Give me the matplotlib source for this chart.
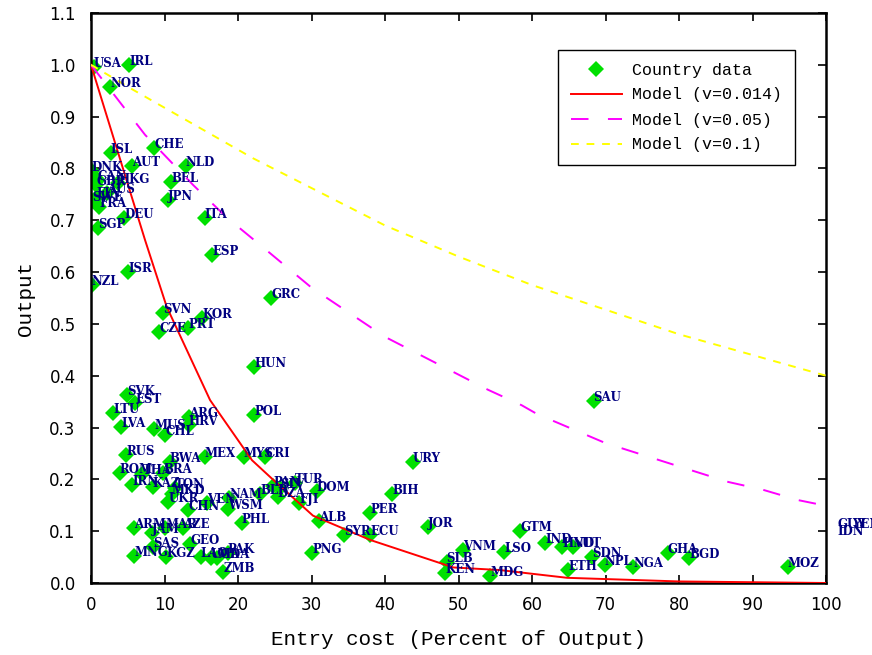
import matplotlib
matplotlib.use('Agg')
from matplotlib import pyplot as plt
from matplotlib.lines import Line2D

# country data (entry cost in percent of output, normalised output)
countries = ['USA', 'IRL', 'NOR', 'ISL', 'CHE', 'AUT', 'NLD', 'DNK', 'BEL', 'CAN',
             'GBR', 'HKG', 'AUS', 'FIN', 'SWE', 'FRA', 'DEU', 'SGP', 'JPN', 'ITA',
             'ESP', 'ISR', 'NZL', 'GRC', 'SVN', 'KOR', 'CZE', 'PRT', 'HUN', 'SVK',
             'EST', 'LTU', 'POL', 'LVA', 'ARG', 'HRV', 'MUS', 'CHL', 'RUS', 'BWA',
             'MEX', 'MYS', 'CRI', 'ROM', 'THA', 'BRA', 'IRN', 'KAZ', 'TON', 'MKD',
             'UKR', 'CHN', 'VEN', 'NAM', 'WSM', 'PHL', 'BLR', 'PAN', 'DZA', 'SLV',
             'TUR', 'FJI', 'DOM', 'PNG', 'ALB', 'SYR', 'ECU', 'PER', 'BIH', 'URY',
             'JOR', 'VNM', 'SLB', 'KEN', 'LSO', 'MDG', 'GTM', 'IND', 'HND', 'VUT',
             'ETH', 'SDN', 'NPL', 'NGA', 'GHA', 'BGD', 'MOZ', 'GUY', 'IDN', 'YEM',
             'SAU', 'ARM', 'JAM', 'MAR', 'AZE', 'SAS', 'MNG', 'KGZ', 'GEO', 'LAO',
             'UGA', 'MDA', 'PAK', 'ZMB']
entry_cost = [0.4, 5.2, 2.6, 2.7, 8.6, 5.6, 12.9, 0.1, 10.9, 0.9,
              0.7, 3.7, 2.2, 0.8, 0.2, 1.1, 4.5, 1.0, 10.5, 15.5,
              16.5, 5.1, 0.1, 24.5, 9.8, 15.1, 9.3, 13.2, 22.2, 4.9,
              6.0, 3.0, 22.2, 4.1, 13.3, 13.3, 8.6, 10.1, 4.8, 10.7,
              15.5, 20.8, 23.7, 3.9, 7.0, 9.8, 5.6, 8.4, 11.4, 11.0,
              10.5, 13.2, 15.8, 18.8, 18.6, 20.5, 23.0, 24.8, 25.4, 25.7,
              27.8, 28.3, 30.7, 30.1, 31.0, 34.4, 38.0, 38.0, 41.0, 43.8,
              45.9, 50.6, 48.4, 48.2, 56.2, 54.3, 58.4, 61.8, 64.1, 65.6,
              64.9, 68.2, 69.9, 73.8, 78.5, 81.4, 94.8, 101.5, 101.5, 103.6,
              68.4, 5.9, 8.3, 10.1, 12.5, 8.5, 5.9, 10.2, 13.5, 14.9,
              16.3, 17.2, 18.6, 18.0]
output = [0.995, 1.0, 0.958, 0.830, 0.840, 0.805, 0.805, 0.795, 0.774, 0.778,
          0.768, 0.772, 0.753, 0.745, 0.738, 0.726, 0.705, 0.685, 0.739, 0.705,
          0.633, 0.600, 0.575, 0.550, 0.521, 0.512, 0.485, 0.492, 0.417, 0.363,
          0.347, 0.328, 0.324, 0.301, 0.320, 0.305, 0.297, 0.286, 0.247, 0.234,
          0.243, 0.243, 0.243, 0.212, 0.210, 0.212, 0.189, 0.185, 0.183, 0.172,
          0.156, 0.141, 0.154, 0.164, 0.143, 0.116, 0.172, 0.187, 0.166, 0.183,
          0.193, 0.155, 0.178, 0.058, 0.120, 0.093, 0.093, 0.135, 0.172, 0.234,
          0.108, 0.064, 0.041, 0.019, 0.060, 0.014, 0.100, 0.077, 0.070, 0.070,
          0.025, 0.050, 0.035, 0.030, 0.058, 0.048, 0.031, 0.106, 0.092, 0.106,
          0.352, 0.106, 0.097, 0.106, 0.106, 0.070, 0.052, 0.050, 0.075, 0.050,
          0.048, 0.048, 0.058, 0.022]

# model curves
red_x = [0, 7.35, 10.3, 16.2, 21.9, 24.8, 30.2, 38.0, 49.3, 55.6, 64.8, 80, 100]
red_y = [1.0, 0.662, 0.533, 0.353, 0.237, 0.199, 0.130, 0.083, 0.030, 0.025, 0.010, 0.003, 0.0]
mag_x = [0, 7.35, 13.9, 18.5, 23.3, 30, 40, 54, 58.6, 60.7, 70, 80, 86.7, 91.4, 96.2, 100]
mag_y = [1.0, 0.865, 0.768, 0.705, 0.649, 0.57, 0.475, 0.373, 0.343, 0.326, 0.27, 0.225, 0.195, 0.18, 0.16, 0.149]
yel_x = [0, 5.7, 22, 40, 50, 60, 80, 100]
yel_y = [1.0, 0.952, 0.82, 0.69, 0.63, 0.575, 0.48, 0.40]

green = '#00e000'
navy = '#000080'

fig = plt.figure(figsize=(8.72, 6.55), dpi=100)
ax = fig.add_axes([91 / 872, 72 / 655, 735 / 872, 570 / 655])

ax.plot(entry_cost, output, linestyle='none', marker='D', markersize=8,
        color=green, markeredgewidth=0, zorder=2)
ax.plot(red_x, red_y, color='red', lw=1.4, zorder=3)
ax.plot(mag_x, mag_y, color='magenta', lw=1.4, dashes=(9, 10), zorder=3)
ax.plot(yel_x, yel_y, color='yellow', lw=1.4, dashes=(4, 4), zorder=3)

for name, xv, yv in zip(countries, entry_cost, output):
    ax.text(xv, yv, name, ha='left', va='baseline', color=navy, fontsize=8.5,
            fontweight='bold', family='DejaVu Serif', zorder=4, clip_on=False)

ax.set_xlim(0, 100)
ax.set_ylim(0, 1.1)
ax.set_xticks(range(0, 101, 10))
ax.set_yticks([i / 10 for i in range(12)])
ax.set_yticklabels(['%.1f' % (i / 10) for i in range(12)])
ax.tick_params(direction='in', length=6, width=1.2, top=True, right=True,
               labelsize=12, pad=9)
ax.tick_params(axis='y', pad=11)
for lbl in ax.get_xticklabels() + ax.get_yticklabels():
    lbl.set_family('DejaVu Sans')
for sp in ax.spines.values():
    sp.set_linewidth(1.8)

ax.set_xlabel('Entry cost (Percent of Output)', family='Liberation Mono',
              fontsize=15, labelpad=12)
ax.set_ylabel('Output', family='Liberation Mono', fontsize=15, labelpad=10)

handles = [
    Line2D([], [], linestyle='none', marker='D', markersize=8, color=green, markeredgewidth=0),
    Line2D([], [], color='red', lw=1.4),
    Line2D([], [], color='magenta', lw=1.4, dashes=(9, 10)),
    Line2D([], [], color='yellow', lw=1.4, dashes=(4, 4)),
]
labels = ['Country data', 'Model (v=0.014)', 'Model (v=0.05)', 'Model (v=0.1)']
leg = ax.legend(handles, labels, loc='upper left',
                bbox_to_anchor=(558 / 872, (655 - 50) / 655),
                bbox_transform=fig.transFigure, fancybox=False, framealpha=1,
                edgecolor='black', handlelength=3.1, handletextpad=0.6,
                borderpad=0.75, labelspacing=0.6, borderaxespad=0,
                prop={'family': 'Liberation Mono', 'size': 12})
leg.get_frame().set_linewidth(1.0)

fig.savefig('out.png', dpi=100)
